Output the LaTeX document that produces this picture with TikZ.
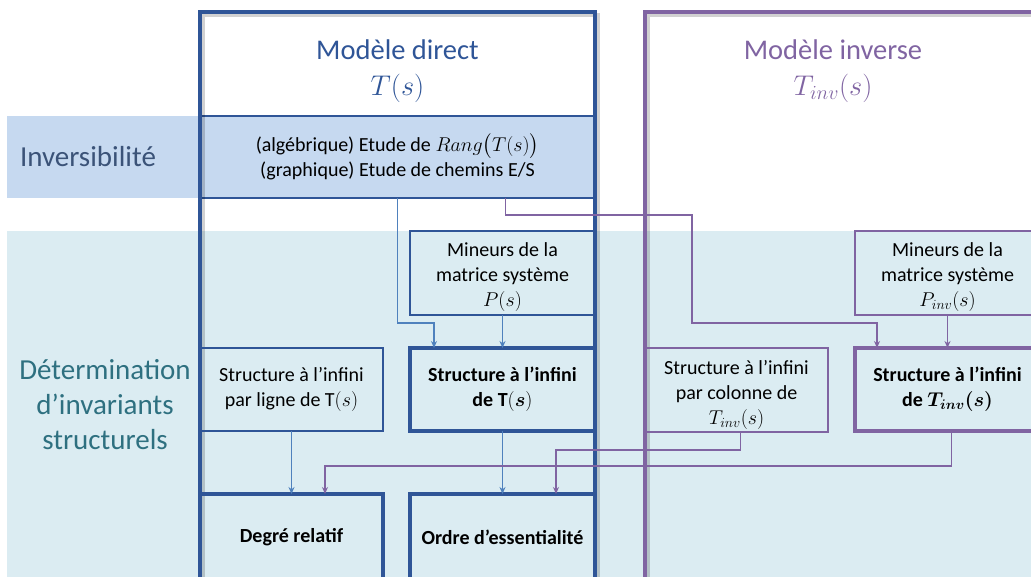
\RequirePackage{fix-cm}
\documentclass[tikz,border=0pt]{standalone}
\usepackage{amsmath}
\usepackage{bm}
\usepackage{fontspec}
\setmainfont{Carlito}
\usetikzlibrary{arrows.meta}
\definecolor{dblue}{HTML}{2F5597}
\definecolor{cblue}{HTML}{4F81BD}
\definecolor{purp}{HTML}{8064A2}
\definecolor{bandblue}{HTML}{C6D9F0}
\definecolor{bandcyan}{HTML}{DBECF2}
\definecolor{invtext}{HTML}{3B5378}
\definecolor{dettext}{HTML}{2E7080}
\tikzset{
  frame/.style={draw, line width=3.2pt, inner sep=0pt, outer sep=0pt,
    preaction={draw=black, draw opacity=0.18, line width=4pt, transform canvas={xshift=3pt,yshift=-3pt}}},
  thinbox/.style={draw, line width=2pt, inner sep=0pt, outer sep=0pt, align=center, font=\fontsize{20}{25}\selectfont},
  boldbox/.style={draw, line width=4pt, inner sep=0pt, outer sep=0pt, align=center, font=\fontsize{20}{25}\selectfont\bfseries},
  title/.style={align=center, font=\fontsize{28.5}{36}\selectfont},
  rowlabel/.style={align=center, font=\fontsize{29}{35}\selectfont},
  conn/.style={line width=1.8pt, -{Stealth[length=7pt,width=6pt]}},
}
\begin{document}
\begin{tikzpicture}[x=1pt,y=-1pt]
\useasboundingbox (0,0) rectangle (1031,577);
\clip (0,0) rectangle (1031,577);
% bands
\fill[bandblue] (7,116) rectangle (597,198);
\fill[bandcyan] (7,231) rectangle (1031,590);
\node[rowlabel, text=invtext] (linv) at (88,157) {Inversibilité};
\node[rowlabel, text=dettext] (ldet) at (105,405) {Détermination\\d’invariants\\structurels};
% direct model
\node[thinbox, draw=dblue, fill=bandblue, line width=2.4pt, minimum width=395pt, minimum height=82pt] (inv) at (397.5,157)
  {(algébrique) Etude de $Rang\bigl(T(s)\bigr)$\\(graphique) Etude de chemins E/S};
\node[frame, draw=dblue, minimum width=395pt, minimum height=568pt] (direct) at (397.5,296) {};
\node[title, text=dblue] (tdirect) at (397.5,71) {Modèle direct\\$T(s)$};
\node[thinbox, draw=dblue, minimum width=185pt, minimum height=84pt] (mineurs) at (502.5,273)
  {\rule{0pt}{21pt}Mineurs de la\\matrice système\\$P(s)$};
\node[boldbox, draw=dblue, minimum width=185pt, minimum height=83pt] (stdT) at (502.5,389.5)
  {Structure à l’infini\\de $\mathbf{T}(\bm{s})$};
\node[thinbox, draw=dblue, minimum width=183pt, minimum height=83pt] (ligne) at (291.5,389.5)
  {Structure à l’infini\\par ligne de $\mathrm{T}(s)$};
\node[boldbox, draw=dblue, minimum width=183pt, minimum height=86pt] (deg) at (291.5,537) {Degré relatif};
\node[boldbox, draw=dblue, minimum width=185pt, minimum height=86pt] (ord) at (502.5,537) {Ordre d’essentialité};
% inverse model
\node[frame, draw=purp, minimum width=395pt, minimum height=568pt] (inverse) at (842.5,296) {};
\node[title, text=purp] (tinverse) at (833,71) {Modèle inverse\\$T_{inv}(s)$};
\node[thinbox, draw=purp, minimum width=185pt, minimum height=84pt] (minI) at (947.5,273)
  {\rule{0pt}{21pt}Mineurs de la\\matrice système\\$P_{inv}(s)$};
\node[boldbox, draw=purp, minimum width=185pt, minimum height=83pt] (stdTi) at (947.5,389.5)
  {Structure à l’infini\\de $\bm{T_{inv}(s)}$};
\node[thinbox, draw=purp, minimum width=183pt, minimum height=84pt] (col) at (736.5,390)
  {\rule{0pt}{24pt}Structure à l’infini\\par colonne de\\$T_{inv}(s)$};
% blue connectors
\draw[conn, cblue] (inv.south) -- ++(0,125) -| ([xshift=-68.5pt]stdT.north);
\draw[conn, cblue] (mineurs.south) -- (stdT.north);
\draw[conn, cblue] (ligne.south) -- (deg.north);
\draw[conn, cblue] (stdT.south) -- (ord.north);
% purple connectors
\draw[conn, purp] ([xshift=108pt]inv.south) -- ++(0,17) -- ++(186.5,0) -- ++(0,108) -| ([xshift=-70.5pt]stdTi.north);
\draw[conn, purp] (minI.south) -- (stdTi.north);
\draw[conn, purp] ([xshift=4pt]stdTi.south) -- ++(0,35) -| ([xshift=33.5pt]deg.north);
\draw[conn, purp] ([xshift=4pt]col.south) -- ++(0,18) -| ([xshift=53.5pt]ord.north);
\end{tikzpicture}
\end{document}
